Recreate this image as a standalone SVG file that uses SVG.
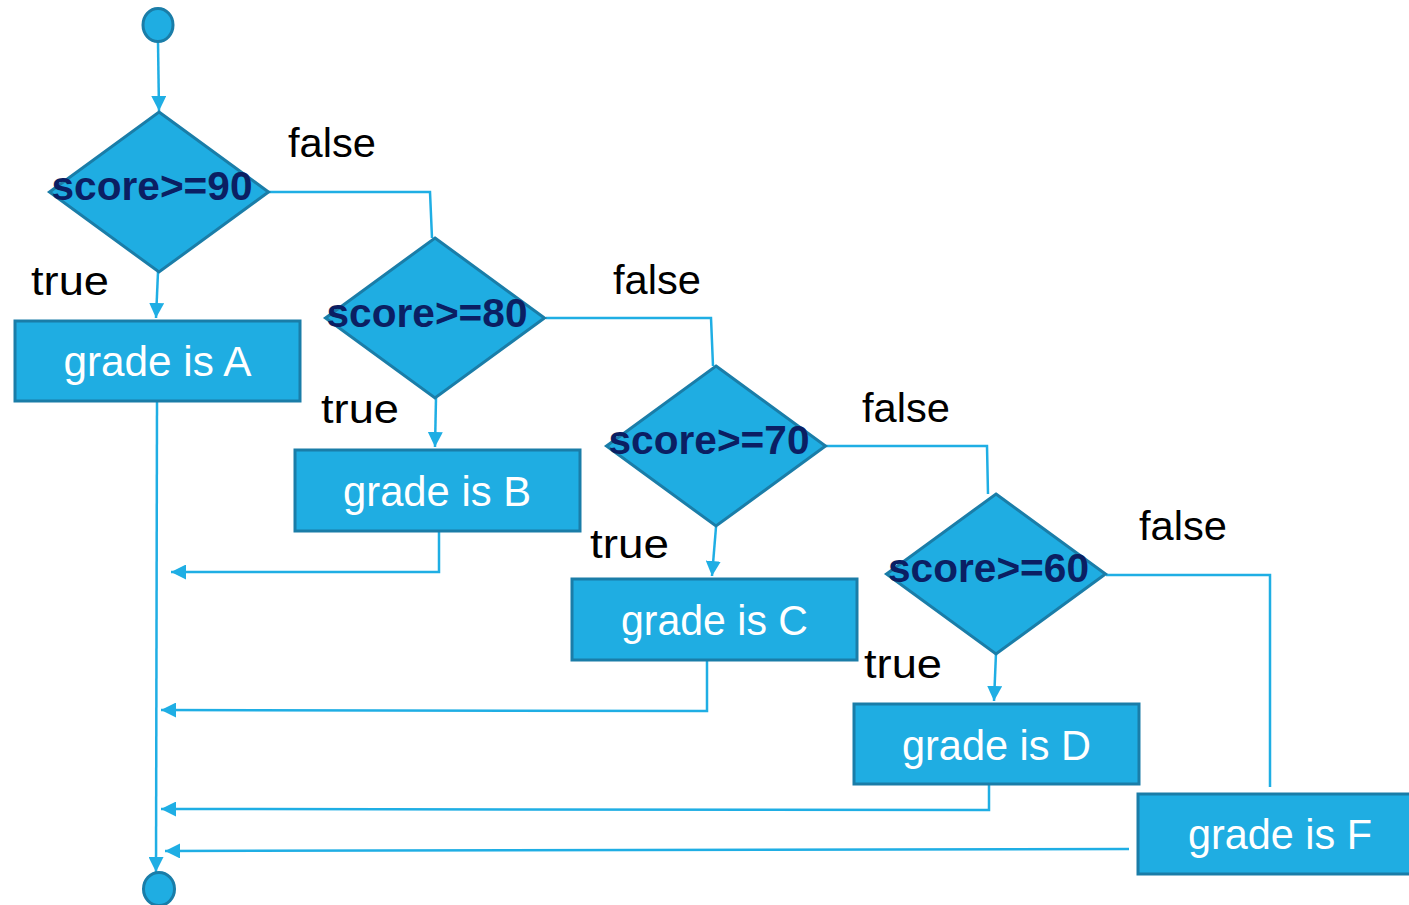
<svg xmlns="http://www.w3.org/2000/svg" width="1409" height="905" viewBox="0 0 1409 905">
<style>
.shape{fill:#1FADE2;stroke:#1A7DA8;stroke-width:3}
.ln{fill:none;stroke:#1FAEE4;stroke-width:2.5}
.cond{font-family:"Liberation Sans",Arial,sans-serif;font-weight:bold;font-size:41px;fill:#0B1F63;text-anchor:middle}
.act{font-family:"Liberation Sans",Arial,sans-serif;font-size:42px;fill:#FFFFFF;text-anchor:middle}
.lbl{font-family:"Liberation Sans",Arial,sans-serif;font-size:41px;fill:#000000}
</style>
<defs>
<marker id="ah" markerWidth="6" markerHeight="6" refX="6" refY="3" orient="auto" markerUnits="strokeWidth">
<path d="M0,0 L6,3 L0,6 Z" fill="#1FAEE4"/>
</marker>
</defs>
<rect width="1409" height="905" fill="#FFFFFF"/>
<g id="connectors">
<path class="ln" d="M158,42 L159,111" marker-end="url(#ah)"/>
<path class="ln" d="M158,272 L156,318" marker-end="url(#ah)"/>
<path class="ln" d="M268,192 L430,192 L432,238"/>
<path class="ln" d="M436,398 L435,447" marker-end="url(#ah)"/>
<path class="ln" d="M546,318 L711,318 L713,366"/>
<path class="ln" d="M716,527 L712,576" marker-end="url(#ah)"/>
<path class="ln" d="M825,446 L987,446 L988,494"/>
<path class="ln" d="M996,653 L994,701" marker-end="url(#ah)"/>
<path class="ln" d="M1106,575 L1270,575 L1270,787"/>
<path class="ln" d="M157,401 L156,872" marker-end="url(#ah)"/>
<path class="ln" d="M439,531 L439,572 L171,572" marker-end="url(#ah)"/>
<path class="ln" d="M707,660 L707,711 L161,710" marker-end="url(#ah)"/>
<path class="ln" d="M989,784 L989,810 L161,809" marker-end="url(#ah)"/>
<path class="ln" d="M1129,849 L165,851" marker-end="url(#ah)"/>
</g>
<g id="start"><ellipse class="shape" cx="158" cy="25" rx="15" ry="16.5"/></g>
<g id="end"><ellipse class="shape" cx="159" cy="889" rx="15.5" ry="16.5"/></g>
<g id="cond90">
<polygon class="shape" points="159,112 268.5,192 159,272 49.5,192"/>
<text class="cond" x="152" y="200" textLength="201" lengthAdjust="spacingAndGlyphs">score&gt;=90</text>
</g>
<g id="cond80">
<polygon class="shape" points="435,238 544.5,318 435,398 325.5,318"/>
<text class="cond" x="427" y="327" textLength="201" lengthAdjust="spacingAndGlyphs">score&gt;=80</text>
</g>
<g id="cond70">
<polygon class="shape" points="716,366 825.5,446 716,526 606.5,446"/>
<text class="cond" x="709" y="454" textLength="201" lengthAdjust="spacingAndGlyphs">score&gt;=70</text>
</g>
<g id="cond60">
<polygon class="shape" points="996,494 1105.5,574 996,654 886.5,574"/>
<text class="cond" x="988.5" y="582" textLength="201" lengthAdjust="spacingAndGlyphs">score&gt;=60</text>
</g>
<g id="gradeA">
<rect class="shape" x="15" y="321" width="285" height="80"/>
<text class="act" x="157.5" y="376" textLength="188" lengthAdjust="spacingAndGlyphs">grade is A</text>
</g>
<g id="gradeB">
<rect class="shape" x="295" y="450" width="285" height="81"/>
<text class="act" x="437" y="506" textLength="188" lengthAdjust="spacingAndGlyphs">grade is B</text>
</g>
<g id="gradeC">
<rect class="shape" x="572" y="579" width="285" height="81"/>
<text class="act" x="714.5" y="635" textLength="187" lengthAdjust="spacingAndGlyphs">grade is C</text>
</g>
<g id="gradeD">
<rect class="shape" x="854" y="704" width="285" height="80"/>
<text class="act" x="996.5" y="760" textLength="189" lengthAdjust="spacingAndGlyphs">grade is D</text>
</g>
<g id="gradeF">
<rect class="shape" x="1138" y="794" width="285" height="80"/>
<text class="act" x="1280" y="849" textLength="184" lengthAdjust="spacingAndGlyphs">grade is F</text>
</g>
<g id="labels">
<text class="lbl" x="288" y="157" textLength="88" lengthAdjust="spacingAndGlyphs">false</text>
<text class="lbl" x="31" y="295" textLength="78" lengthAdjust="spacingAndGlyphs">true</text>
<text class="lbl" x="613" y="294" textLength="88" lengthAdjust="spacingAndGlyphs">false</text>
<text class="lbl" x="321" y="423" textLength="78" lengthAdjust="spacingAndGlyphs">true</text>
<text class="lbl" x="862" y="422" textLength="88" lengthAdjust="spacingAndGlyphs">false</text>
<text class="lbl" x="590" y="558" textLength="79" lengthAdjust="spacingAndGlyphs">true</text>
<text class="lbl" x="1139" y="540" textLength="88" lengthAdjust="spacingAndGlyphs">false</text>
<text class="lbl" x="864" y="678" textLength="78" lengthAdjust="spacingAndGlyphs">true</text>
</g>
</svg>
